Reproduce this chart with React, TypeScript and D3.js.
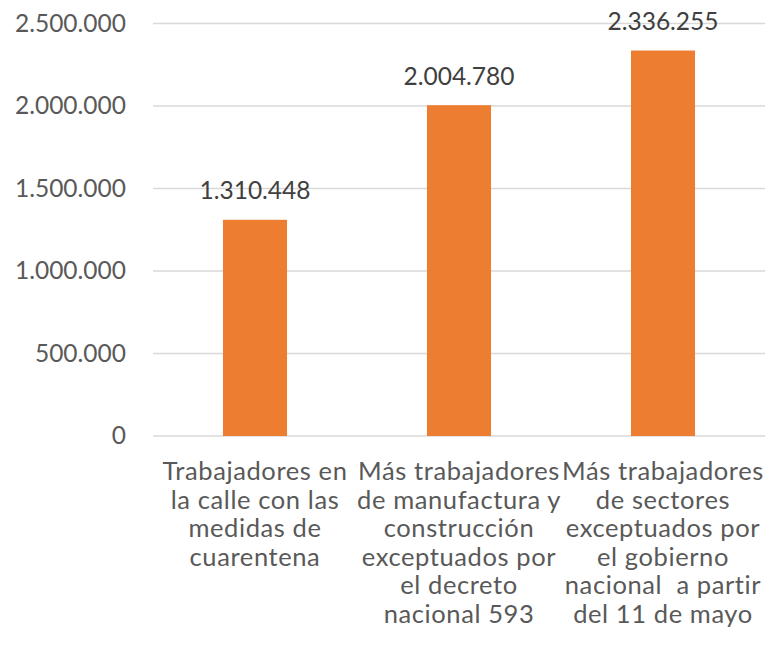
import React from "react";
import * as d3 from "d3";

const categories: string[][] = [
  ["Trabajadores en", "la calle con las", "medidas de", "cuarentena"],
  ["Más trabajadores", "de manufactura y", "construcción", "exceptuados por", "el decreto", "nacional 593"],
  ["Más trabajadores", "de sectores", "exceptuados por", "el gobierno", "nacional  a partir", "del 11 de mayo"],
];
const values: number[] = [1310448, 2004780, 2336255];
const yTicks: number[] = [0, 500000, 1000000, 1500000, 2000000, 2500000];

const W = 765;
const H = 655;
const FONT = "Lato, 'Open Sans', sans-serif";

const fmt = (v: number) => d3.format(",")(v).replace(/,/g, ".");

export default function App() {
  const ids = categories.map((_, i) => String(i));
  const x = d3.scaleBand<string>().domain(ids).range([153, 765]).paddingInner(0.686).paddingOuter(0.343);
  const y = d3.scaleLinear().domain([0, 2500000]).range([436, 23.5]);

  return (
    <svg width={W} height={H} style={{ position: "absolute", left: 0, top: 0, background: "#fff" }}>
      {yTicks.map((t) => (
        <g key={t}>
          <line x1={153} x2={765} y1={y(t)} y2={y(t)} stroke="#d9d9d9" strokeWidth={1.3} />
          <text x={126} y={y(t) + 8} textAnchor="end" fontFamily={FONT} fontSize={24.5} fill="#595959">
            {fmt(t)}
          </text>
        </g>
      ))}
      {values.map((v, i) => {
        const bx = x(String(i))!;
        const bw = x.bandwidth();
        return (
          <g key={i}>
            <rect x={bx} y={y(v)} width={bw} height={y(0) - y(v)} fill="#ED7D31" />
            <text x={bx + bw / 2} y={y(v) - 20.5} textAnchor="middle" fontFamily={FONT} fontSize={24.5} fill="#404040">
              {fmt(v)}
            </text>
          </g>
        );
      })}
      {categories.map((lines, i) => {
        const cx = x(String(i))! + x.bandwidth() / 2;
        return (
          <text key={i} textAnchor="middle" fontFamily={FONT} fontSize={25.5} letterSpacing={0.6} fill="#595959">
            {lines.map((ln, j) => (
              <tspan key={j} x={cx} y={480 + j * 28.5} style={{ whiteSpace: "pre" }}>
                {ln}
              </tspan>
            ))}
          </text>
        );
      })}
    </svg>
  );
}
